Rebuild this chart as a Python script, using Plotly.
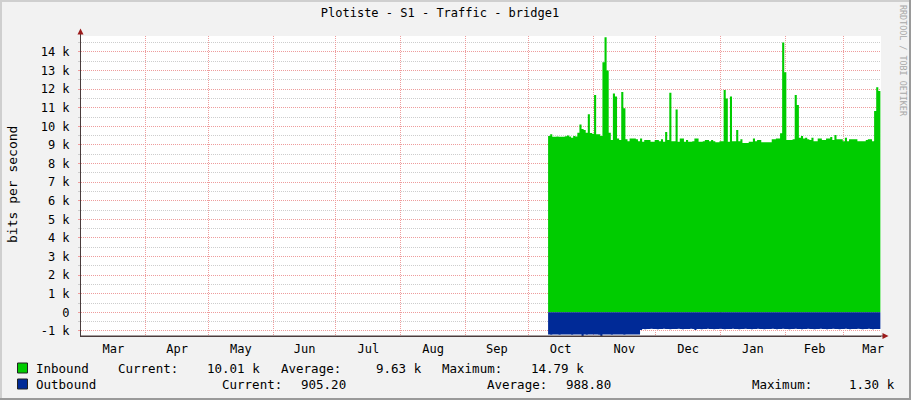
import plotly.graph_objects as go
import pandas as pd

# ---------------- data ----------------
title_text = "Plotiste - S1 - Traffic - bridge1"
y_label = "bits per second"
series_names = ["Inbound", "Outbound"]
data_start = "2010-10-10 12:00"          # first sample (daily samples)
x_range = ["2010-03-01 00:00", "2011-03-18 19:00"]

# inbound traffic, thousands of bits per second (one value per day)
inbound_k = [
    9.48, 9.57, 9.44, 9.44, 9.45, 9.44, 9.44, 9.44, 9.46, 9.50,
    9.45, 9.39, 9.48, 9.45, 9.66, 10.10, 9.85, 9.80, 9.66, 10.65,
    9.64, 9.60, 11.68, 9.57, 9.57, 9.48, 13.44, 14.79, 13.00, 9.66,
    9.26, 11.77, 11.60, 9.35, 9.26, 11.84, 10.97, 9.30, 9.20, 9.35,
    9.35, 9.35, 9.30, 9.20, 9.35, 9.17, 9.26, 9.26, 9.26, 9.17,
    9.17, 9.26, 9.26, 9.20, 9.30, 9.17, 9.70, 9.26, 11.80, 9.20,
    9.20, 10.90, 9.17, 9.35, 9.35, 9.17, 9.26, 9.17, 9.17, 9.20,
    9.35, 9.35, 9.17, 9.17, 9.20, 9.26, 9.26, 9.20, 9.26, 9.20,
    9.14, 9.14, 9.20, 9.20, 11.95, 11.50, 9.17, 11.60, 9.20, 9.20,
    9.80, 9.20, 9.30, 9.10, 9.10, 9.10, 9.17, 9.17, 9.35, 9.20,
    9.26, 9.26, 9.14, 9.14, 9.14, 9.14, 9.14, 9.30, 9.30, 9.35,
    9.35, 9.62, 14.50, 12.90, 9.26, 9.26, 9.26, 9.30, 11.68, 11.15,
    9.39, 9.48, 9.35, 9.39, 9.30, 9.26, 9.39, 9.20, 9.20, 9.35,
    9.35, 9.26, 9.26, 9.35, 9.35, 9.43, 9.26, 9.53, 9.30, 9.30,
    9.30, 9.20, 9.39, 9.20, 9.30, 9.30, 9.30, 9.30, 9.20, 9.20,
    9.20, 9.20, 9.26, 9.30, 9.30, 9.20, 10.82, 12.10, 11.90, 10.01,
]

# outbound traffic, thousands of bits per second (drawn below zero)
outbound_k = [
    1.20, 1.21, 1.20, 1.19, 1.20, 1.21, 1.20, 1.20, 1.19, 1.20,
    1.20, 1.21, 1.20, 1.20, 1.19, 1.20, 1.30, 1.20, 1.21, 1.20,
    1.20, 1.19, 1.20, 1.20, 1.21, 1.30, 1.20, 1.20, 1.19, 1.20,
    1.21, 1.20, 1.20, 1.20, 1.19, 1.20, 1.21, 1.20, 1.20, 1.20,
    1.19, 1.20, 1.20, 1.20, 0.95, 0.90, 0.91, 0.90, 0.90, 0.89,
    0.90, 0.90, 0.91, 0.90, 0.90, 0.89, 0.90, 0.90, 0.91, 0.90,
    0.90, 0.90, 0.89, 0.90, 0.91, 0.90, 0.90, 0.90, 0.89, 0.90,
    0.95, 0.90, 0.90, 0.91, 0.90, 0.90, 0.89, 0.90, 0.90, 0.91,
    0.90, 0.90, 0.89, 0.90, 0.91, 0.90, 0.90, 0.90, 0.89, 0.90,
    0.90, 0.91, 0.90, 0.90, 0.89, 0.90, 0.90, 0.91, 0.90, 0.90,
    0.89, 0.90, 0.90, 0.91, 0.90, 0.90, 0.90, 0.89, 0.90, 0.91,
    0.90, 0.90, 0.89, 0.90, 0.90, 0.91, 0.90, 0.90, 0.89, 0.90,
    0.90, 0.91, 0.90, 0.90, 0.89, 0.90, 0.90, 0.91, 0.90, 0.90,
    0.89, 0.90, 0.90, 0.91, 0.90, 0.90, 0.89, 0.90, 0.90, 0.91,
    0.90, 0.90, 0.89, 0.90, 0.91, 0.90, 0.90, 0.90, 0.89, 0.90,
    0.91, 0.90, 0.90, 0.89, 0.90, 0.91, 0.90, 0.90, 0.90, 0.905,
]

y_tick_vals = [-1000, 0, 1000, 2000, 3000, 4000, 5000, 6000, 7000,
               8000, 9000, 10000, 11000, 12000, 13000, 14000]
y_tick_text = ["-1 k", "0", "1 k", "2 k", "3 k", "4 k", "5 k", "6 k", "7 k",
               "8 k", "9 k", "10 k", "11 k", "12 k", "13 k", "14 k"]
y_range = [-1274, 14855]

inbound_stats = ["10.01 k", "9.63 k", "14.79 k"]
outbound_stats = ["905.20", "988.80", "1.30 k"]
stat_labels = ["Current:", "Average:", "Maximum:"]
credit_text = "RRDTOOL / TOBI OETIKER"

# ---------------- style ----------------
W, H = 911, 400
L, R, T, B = 81, 30, 36, 64
PW, PH = W - L - R, H - T - B
FONT = "DejaVu Sans Mono"
GREEN = "#00CC00"
BLUE = "#002A97"
MGRID = "#EE9C9C"
GRID = "#CDCDCD"
AXIS = "#4A3C3C"
ARROW = "#9B1B1B"


def px(xp):
    return (xp - L) / PW


def py(yp):
    return (H - B - yp) / PH


dates = pd.date_range(data_start, periods=len(inbound_k), freq="D")
inbound = [v * 1000 for v in inbound_k]
outbound = [-v * 1000 for v in outbound_k]

fig = go.Figure()
fig.add_trace(go.Scatter(
    x=dates, y=inbound, mode="lines", line=dict(width=0, color=GREEN, shape="hv"),
    fill="tozeroy", fillcolor=GREEN, name=series_names[0], hoverinfo="skip"))
fig.add_trace(go.Scatter(
    x=dates, y=outbound, mode="lines", line=dict(width=0, color=BLUE, shape="hv"),
    fill="tozeroy", fillcolor=BLUE, name=series_names[1], hoverinfo="skip"))

fig.update_layout(
    width=W, height=H,
    margin=dict(l=L, r=R, t=T, b=B, pad=0),
    paper_bgcolor="#F2F2F2", plot_bgcolor="#FFFFFF",
    showlegend=False,
    font=dict(family=FONT, size=12, color="#000000"),
    title=dict(text=title_text, x=440 / W, xref="container", xanchor="center",
               y=1 - 13 / H, yref="container", yanchor="middle",
               font=dict(family=FONT, size=12, color="#000000")),
)

fig.update_xaxes(
    type="date", range=x_range, dtick="M1", tick0="2010-03-01",
    tickformat="%b", ticklabelmode="period",
    showgrid=True, gridcolor=MGRID, griddash="1px,1px", gridwidth=1,
    ticks="", showline=True, linecolor=AXIS, linewidth=1,
    tickfont=dict(family=FONT, size=12, color="#000000"),
    ticklabelstandoff=2, zeroline=False, fixedrange=True,
)
fig.update_yaxes(
    range=y_range, tickmode="array", tickvals=y_tick_vals, ticktext=y_tick_text,
    showgrid=True, gridcolor=MGRID, griddash="1px,1px", gridwidth=1,
    minor=dict(dtick=500, tick0=500, showgrid=True, gridcolor=GRID,
               griddash="1px,1px", gridwidth=1, ticks="outside", ticklen=2,
               tickcolor=GRID),
    ticks="outside", ticklen=2, tickcolor=MGRID,
    showline=True, linecolor=AXIS, linewidth=1, zeroline=False,
    tickfont=dict(family=FONT, size=12, color="#000000"),
    ticklabelstandoff=6, fixedrange=True,
)

shapes = []
# axis extensions and arrow heads
shapes.append(dict(type="line", xref="paper", yref="paper",
                   x0=px(80.5), x1=px(80.5), y0=py(336), y1=py(33),
                   line=dict(color=AXIS, width=1)))
shapes.append(dict(type="line", xref="paper", yref="paper",
                   x0=px(80.5), x1=px(884), y0=py(336), y1=py(336),
                   line=dict(color=AXIS, width=1)))
shapes.append(dict(type="path", xref="paper", yref="paper",
                   path=f"M {px(77.5)} {py(34.5)} L {px(83.5)} {py(34.5)} L {px(80.5)} {py(28.5)} Z",
                   fillcolor=ARROW, line=dict(width=0)))
shapes.append(dict(type="path", xref="paper", yref="paper",
                   path=f"M {px(882.5)} {py(333)} L {px(882.5)} {py(339)} L {px(888.5)} {py(336)} Z",
                   fillcolor=ARROW, line=dict(width=0)))
# frame
shapes.append(dict(type="rect", xref="paper", yref="paper", layer="above",
                   x0=px(0), x1=px(W), y0=py(0), y1=py(2),
                   fillcolor="#CFCFCF", line=dict(width=0)))
shapes.append(dict(type="rect", xref="paper", yref="paper", layer="above",
                   x0=px(0), x1=px(2), y0=py(0), y1=py(H),
                   fillcolor="#CFCFCF", line=dict(width=0)))
shapes.append(dict(type="rect", xref="paper", yref="paper", layer="above",
                   x0=px(W - 2), x1=px(W), y0=py(0), y1=py(H),
                   fillcolor="#9A9A9A", line=dict(width=0)))
shapes.append(dict(type="rect", xref="paper", yref="paper", layer="above",
                   x0=px(0), x1=px(W), y0=py(H - 2), y1=py(H),
                   fillcolor="#9A9A9A", line=dict(width=0)))
# legend swatches
for color, ytop in [(GREEN, 363), (BLUE, 379)]:
    shapes.append(dict(type="rect", xref="paper", yref="paper",
                       x0=px(17.5), x1=px(27.5), y0=py(ytop + 10), y1=py(ytop),
                       fillcolor=color, line=dict(color="#222222", width=1)))
fig.update_layout(shapes=shapes)

ann = []
ann.append(dict(text=y_label, x=px(12), y=py(185), xref="paper", yref="paper",
                textangle=-90, showarrow=False, xanchor="center", yanchor="middle",
                font=dict(family=FONT, size=13, color="#000000")))
ann.append(dict(text=credit_text, x=px(903), y=py(61), xref="paper", yref="paper",
                textangle=90, showarrow=False, xanchor="center", yanchor="middle",
                font=dict(family=FONT, size=8.4, color="#A8A8A8")))

legend_rows = [
    (368, series_names[0], inbound_stats, [116, 279, 440], [205, 374, 529]),
    (384, series_names[1], outbound_stats, [220, 485, 750], [299, 564, 847]),
]
for yrow, name, stats, lab_x, val_x in legend_rows:
    ann.append(dict(text=name, x=px(34), y=py(yrow), xref="paper", yref="paper",
                    showarrow=False, xanchor="left", yanchor="middle",
                    font=dict(family=FONT, size=12.5, color="#000000")))
    for lbl, val, lx, vx in zip(stat_labels, stats, lab_x, val_x):
        ann.append(dict(text=lbl, x=px(lx), y=py(yrow), xref="paper", yref="paper",
                        showarrow=False, xanchor="left", yanchor="middle",
                        font=dict(family=FONT, size=12.5, color="#000000")))
        ann.append(dict(text=val, x=px(vx), y=py(yrow), xref="paper", yref="paper",
                        showarrow=False, xanchor="left", yanchor="middle",
                        font=dict(family=FONT, size=12.5, color="#000000")))
fig.update_layout(annotations=ann)

fig.write_html("out.html", config={"displayModeBar": False},
               post_script="document.body.style.margin='0';")
